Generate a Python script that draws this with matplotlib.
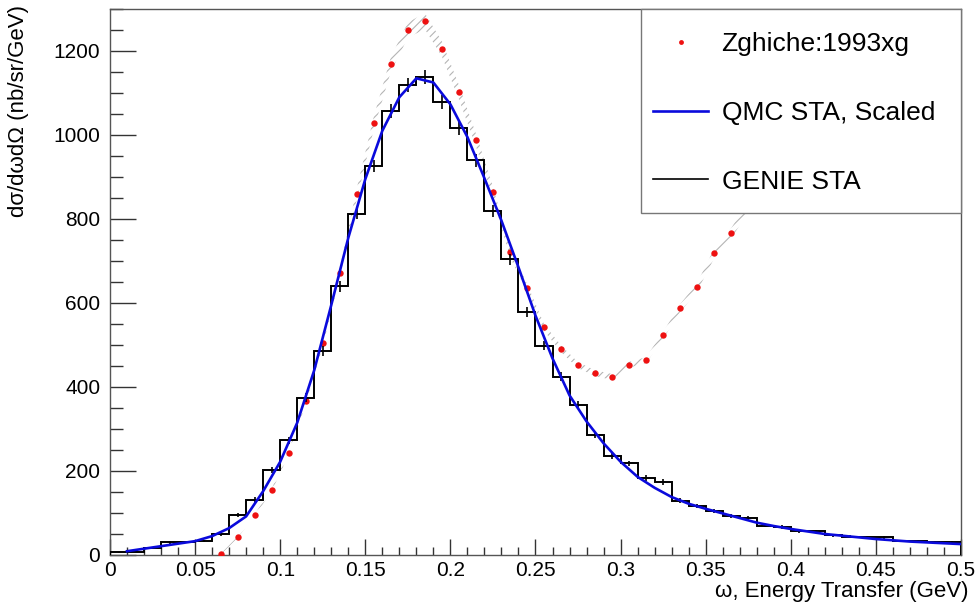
import numpy as np
import matplotlib
matplotlib.use("Agg")
import matplotlib.pyplot as plt
from matplotlib.ticker import MultipleLocator, FixedLocator, FuncFormatter
from matplotlib.lines import Line2D
from matplotlib.patches import Rectangle

plt.rcParams['font.family'] = ['Liberation Sans', 'DejaVu Sans']
plt.rcParams['hatch.linewidth'] = 0.8

# ---- GENIE STA histogram (bin edges 0..0.5, width 0.01) ----
bin_edges = [round(0.01 * i, 2) for i in range(51)]
genie_vals = [6, 8, 16, 30, 31, 33, 50, 95, 131, 202,
              273, 375, 486, 640, 813, 926, 1057, 1119, 1138, 1079,
              1017, 940, 819, 704, 579, 498, 425, 357, 286, 236,
              218, 183, 173, 129, 117, 105, 93, 89, 70, 67,
              56, 56, 47, 44, 42, 42, 33, 33, 31, 30]
genie_err = [1, 1.5, 2, 3, 3, 3, 4, 5, 6, 7,
             8, 10, 11, 13, 14, 15, 16, 17, 17, 16,
             16, 15, 14, 13, 12, 11, 10, 9, 8, 8,
             7, 7, 7, 6, 5, 5, 5, 5, 4, 4,
             4, 4, 3, 3, 3, 3, 3, 3, 3, 3]

# ---- QMC STA, Scaled curve ----
qmc_x = [0.01, 0.02, 0.03, 0.04, 0.05, 0.06, 0.07, 0.08, 0.09, 0.10,
         0.11, 0.12, 0.13, 0.14, 0.15, 0.16, 0.17, 0.18, 0.19, 0.20,
         0.21, 0.22, 0.23, 0.24, 0.25, 0.26, 0.27, 0.28, 0.29, 0.30,
         0.31, 0.32, 0.33, 0.34, 0.35, 0.36, 0.37, 0.38, 0.39, 0.40,
         0.41, 0.42, 0.43, 0.44, 0.45, 0.46, 0.47, 0.48, 0.49, 0.50]
qmc_y = [9, 15, 21, 27, 33, 45, 64, 92, 152, 222,
         315, 440, 595, 755, 895, 1010, 1090, 1135, 1125, 1073,
         995, 897, 796, 685, 570, 468, 380, 318, 266, 222,
         186, 160, 138, 122, 110, 99, 88, 77, 69, 62,
         56, 50, 46, 42, 38, 35, 32, 30, 28, 26]

# ---- Zghiche:1993xg data ----
data_x = [0.065, 0.075, 0.085, 0.095, 0.105, 0.115, 0.125, 0.135, 0.145, 0.155,
          0.165, 0.175, 0.185, 0.195, 0.205, 0.215, 0.225, 0.235, 0.245, 0.255,
          0.265, 0.275, 0.285, 0.295, 0.305, 0.315, 0.325, 0.335, 0.345, 0.355,
          0.365, 0.375]
data_y = [2, 43, 95, 155, 243, 366, 505, 672, 860, 1029,
          1168, 1250, 1271, 1205, 1102, 988, 864, 721, 636, 542,
          491, 452, 433, 424, 453, 464, 523, 588, 638, 718,
          766, 830]
data_err = [1, 2, 2, 3, 4, 6, 8, 10, 13, 15,
            17, 18, 19, 18, 17, 15, 13, 11, 10, 8,
            8, 7, 7, 7, 7, 7, 8, 9, 10, 11,
            12, 13]

x_ticks = [0, 0.05, 0.1, 0.15, 0.2, 0.25, 0.3, 0.35, 0.4, 0.45, 0.5]
y_ticks = [0, 200, 400, 600, 800, 1000, 1200]

fig = plt.figure(figsize=(9.78, 6.04), dpi=100)
ax = fig.add_axes([110/978, 1 - 555/604, 851/978, 546/604])

dx = np.array(data_x)
dy = np.array(data_y)
de = np.array(data_err)
ax.fill_between(dx, dy - de, dy + de, facecolor='none', edgecolor='#b4b4b4',
                hatch='////', linewidth=0, zorder=1)
ax.plot(dx, dy, 'o', color='#ee1111', ms=4.6, mec='none', zorder=3)

edges = np.array(bin_edges)
centers = 0.5 * (edges[:-1] + edges[1:])
ax.stairs(genie_vals, edges, color='black', lw=1.4, zorder=4)
ax.errorbar(centers, genie_vals, yerr=genie_err, fmt='none', ecolor='black',
            elinewidth=1.2, capsize=0, zorder=4)

ax.plot(qmc_x, qmc_y, color='#0a0adc', lw=1.9, zorder=5)

ax.set_xlim(0, 0.5)
ax.set_ylim(0, 1300)
ax.xaxis.set_major_locator(FixedLocator(x_ticks))
ax.xaxis.set_minor_locator(MultipleLocator(0.01))
ax.yaxis.set_major_locator(FixedLocator(y_ticks))
ax.yaxis.set_minor_locator(MultipleLocator(50))
ax.xaxis.set_major_formatter(FuncFormatter(lambda v, p: ('%g' % v)))
ax.tick_params(axis='both', which='both', direction='in', colors='#333333',
               labelcolor='black', labelsize=15, width=1.0)
ax.tick_params(axis='x', which='major', length=11.5, pad=4)
ax.tick_params(axis='x', which='minor', length=6)
ax.tick_params(axis='y', which='major', length=18.5, pad=7)
ax.tick_params(axis='y', which='minor', length=9.5)
for s in ax.spines.values():
    s.set_color('#555555')
    s.set_linewidth(1.0)

ax.set_xlabel('ω, Energy Transfer (GeV)', fontsize=16, loc='right')
ax.xaxis.set_label_coords(1.009, -0.047)
ax.set_ylabel('dσ/dωdΩ (nb/sr/GeV)', fontsize=16, loc='top')
ax.yaxis.set_label_coords(-0.0955, 1.007)

# legend box
box = Rectangle((0.624, 0.626), 0.376, 0.374, transform=ax.transAxes,
                facecolor='white', edgecolor='#777777', linewidth=1.0,
                zorder=9, clip_on=False)
ax.add_patch(box)
h_data = Line2D([], [], ls='none', marker='o', color='#ee1111', ms=3.5, mec='none')
h_qmc = Line2D([], [], color='#0a0adc', lw=1.9)
h_genie = Line2D([], [], color='black', lw=1.2)
leg = ax.legend([h_data, h_qmc, h_genie],
                ['Zghiche:1993xg', 'QMC STA, Scaled', 'GENIE STA'],
                loc='upper left', bbox_to_anchor=(0.638, 0.958),
                borderaxespad=0, borderpad=0, fontsize=19,
                handlelength=2.1, handletextpad=0.5, labelspacing=1.7,
                frameon=False)
leg.set_zorder(10)

fig.savefig('out.png', dpi=100)
